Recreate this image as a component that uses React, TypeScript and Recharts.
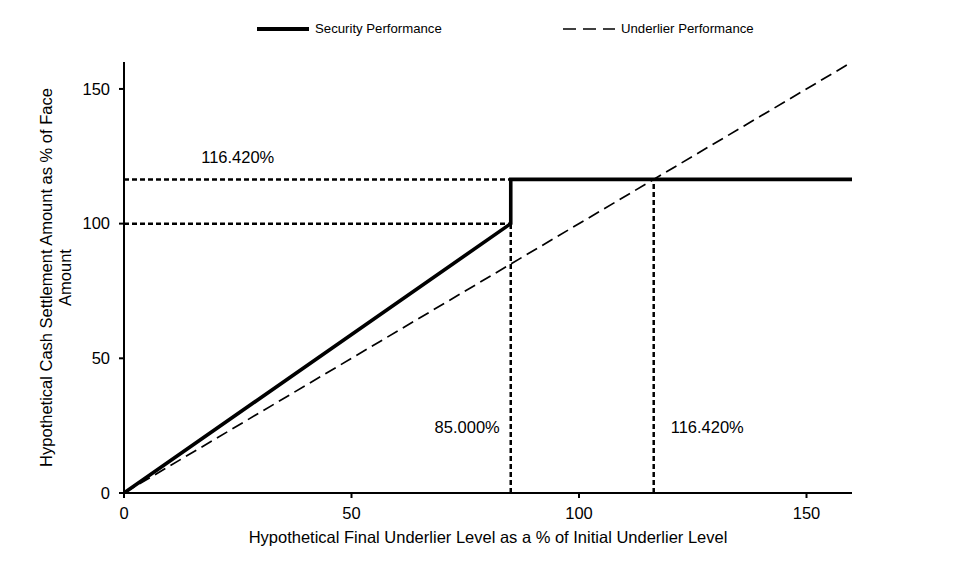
import React from "react";
import {
  Label,
  Legend,
  Line,
  LineChart,
  ReferenceDot,
  ReferenceLine,
  XAxis,
  YAxis,
} from "recharts";

// payoff points, in % of initial level / % of face
const securityPoints = [
  { level: 0, value: 0 },
  { level: 85, value: 100 },
  { level: 85, value: 116.42 },
  { level: 160, value: 116.42 },
];
const underlierPoints = [
  { level: 0, value: 0 },
  { level: 160, value: 160 },
];
const xTicks = [0, 50, 100, 150];
const yTicks = [0, 50, 100, 150];
const barrier = 85;
const cap = 116.42;
const barrierLabel = "85.000%";
const capLabel = "116.420%";

const FONT = "'Liberation Sans', Arial, sans-serif";
const FS = 16.5;
const axisTick = { fill: "#000", fontSize: FS, fontFamily: FONT };
const labelStyle = { fontSize: FS, fontFamily: FONT, fill: "#000" };

function LegendRow() {
  return (
    <div style={{ display: "flex", fontFamily: FONT, fontSize: 13.2, color: "#000" }}>
      <div style={{ position: "absolute", left: 257, display: "flex", alignItems: "center" }}>
        <svg width={54} height={8}>
          <line x1={0} y1={4} x2={52} y2={4} stroke="#000" strokeWidth={4} />
        </svg>
        <span style={{ marginLeft: 4 }}>Security Performance</span>
      </div>
      <div style={{ position: "absolute", left: 563, display: "flex", alignItems: "center" }}>
        <svg width={54} height={8}>
          <line x1={0} y1={4} x2={52} y2={4} stroke="#000" strokeWidth={1.7} strokeDasharray="13 7" />
        </svg>
        <span style={{ marginLeft: 4 }}>Underlier Performance</span>
      </div>
    </div>
  );
}

function YTitle(props: any) {
  const { viewBox } = props;
  const cy = viewBox.y + viewBox.height / 2;
  const cx = 56;
  return (
    <text
      transform={`rotate(-90, ${cx}, ${cy})`}
      x={cx}
      y={cy}
      textAnchor="middle"
      fontSize={FS}
      fontFamily={FONT}
      fill="#000"
    >
      <tspan x={cx} dy={-4}>Hypothetical Cash Settlement Amount as % of Face</tspan>
      <tspan x={cx} dy={19}>Amount</tspan>
    </text>
  );
}

export default function App() {
  const guide = { stroke: "#000", strokeWidth: 2.5, strokeDasharray: "5 3" };
  return (
    <div style={{ position: "absolute", left: 0, top: 0, width: 963, height: 564, background: "#fff" }}>
      <LineChart
        width={963}
        height={564}
        margin={{ top: 62, right: 111, bottom: 21, left: 0 }}
      >
        <Legend
          verticalAlign="middle"
          align="center"
          layout="horizontal"
          wrapperStyle={{ top: 21, left: 0, width: 963, height: 16 }}
          content={() => <LegendRow />}
        />
        <XAxis
          type="number"
          dataKey="level"
          domain={[0, 160]}
          ticks={xTicks}
          allowDataOverflow
          height={50}
          stroke="#000"
          strokeWidth={2}
          tickSize={5}
          tickMargin={9}
          tick={axisTick}
          tickLine={{ stroke: "#000", strokeWidth: 2 }}
        >
          <Label
            value="Hypothetical Final Underlier Level as a % of Initial Underlier Level"
            position="bottom"
            offset={-12}
            style={labelStyle}
          />
        </XAxis>
        <YAxis
          type="number"
          dataKey="value"
          domain={[0, 160]}
          ticks={yTicks}
          allowDataOverflow
          width={124}
          stroke="#000"
          strokeWidth={2}
          tickSize={5}
          tickMargin={9}
          tick={axisTick}
          tickLine={{ stroke: "#000", strokeWidth: 2 }}
        >
          <Label content={YTitle} />
        </YAxis>
        <Line
          data={underlierPoints}
          dataKey="value"
          stroke="#000"
          strokeWidth={1.7}
          strokeDasharray="12 6"
          dot={false}
          activeDot={false}
          isAnimationActive={false}
          type="linear"
        />
        <ReferenceLine segment={[{ x: 0, y: cap }, { x: barrier, y: cap }]} {...guide} />
        <ReferenceLine segment={[{ x: 0, y: 100 }, { x: barrier, y: 100 }]} {...guide} />
        <ReferenceLine segment={[{ x: barrier, y: 0 }, { x: barrier, y: 100 }]} {...guide} />
        <ReferenceLine segment={[{ x: cap, y: 0 }, { x: cap, y: cap }]} {...guide} />
        <Line
          data={securityPoints}
          dataKey="value"
          stroke="#000"
          strokeWidth={3.6}
          dot={false}
          activeDot={false}
          isAnimationActive={false}
          type="linear"
        />
        <ReferenceDot x={25} y={124.6} r={0} fill="none" stroke="none">
          <Label value={capLabel} position="center" style={labelStyle} />
        </ReferenceDot>
        <ReferenceDot x={barrier} y={24.5} r={0} fill="none" stroke="none">
          <Label value={barrierLabel} position="left" offset={11} style={labelStyle} />
        </ReferenceDot>
        <ReferenceDot x={cap} y={24.5} r={0} fill="none" stroke="none">
          <Label value={capLabel} position="right" offset={17} style={labelStyle} />
        </ReferenceDot>
      </LineChart>
    </div>
  );
}
